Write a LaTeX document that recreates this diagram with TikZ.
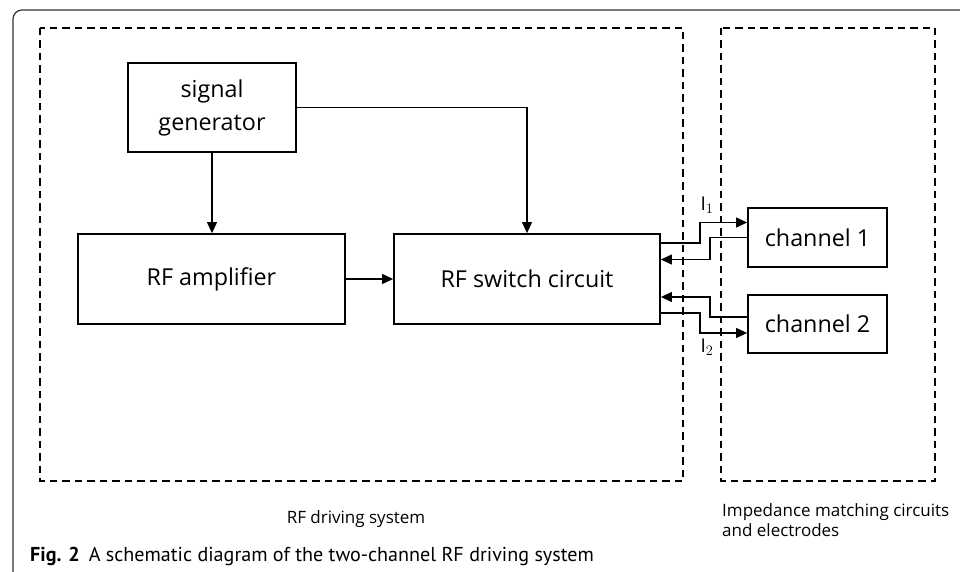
\documentclass[tikz,border=0pt]{standalone}
\usepackage{fontspec}
\setmainfont{Open Sans}
\newfontfamily\capfont{PT Sans}
\usetikzlibrary{arrows.meta}
\begin{document}
\begin{tikzpicture}[x=1pt,y=-1pt,
  blockbox/.style={draw,line width=1.8pt,inner sep=0pt,align=center,font=\fontsize{23.3}{33}\selectfont},
  dbox/.style={draw,line width=1.8pt,dash pattern=on 7.5pt off 5pt},
  conn/.style={line width=1.1pt,-{Triangle[length=11pt,width=10pt]}},
  lbl/.style={font=\fontsize{17}{20}\selectfont,align=left},
  curlbl/.style={font=\fontsize{19}{22}\selectfont}]
\useasboundingbox (0,0) rectangle (960,572);
% frame
\draw[line width=1.2pt,black!80] (13,575) -- (13,19) arc[start angle=180,end angle=270,radius=9] -- (965,10);
% dashed groups
\draw[dbox] (40,28) rectangle (683,481);
\draw[dbox] (721,28) rectangle (935,481);
% blocks
\node[blockbox,minimum width=168pt,minimum height=89pt] (sg) at (212,107.5) {signal\\generator};
\node[blockbox,minimum width=267pt,minimum height=90pt] (amp) at (211.5,279) {RF amplifier};
\node[blockbox,minimum width=266pt,minimum height=90pt] (sw) at (527,279) {RF switch circuit};
\node[blockbox,minimum width=139pt,minimum height=59pt] (ch1) at (817.5,237.5) {channel 1};
\node[blockbox,minimum width=139pt,minimum height=58pt] (ch2) at (817.5,324) {channel 2};
% connectors
\draw[conn] (sg.south) -- (amp.north -| sg.south);
\draw[conn] (sg.east) -| (sw.north);
\draw[conn] (amp.east) -- (sw.west);
\draw[conn] (sw.east |- 0,243) -- (700,243) |- (ch1.west |- 0,222.5);
\draw[conn] (ch1.west) -- (710,237.5) |- (sw.east |- 0,259.5);
\draw[conn] (ch2.west |- 0,317) -- (710,317) |- (sw.east |- 0,297);
\draw[conn] (sw.east |- 0,313) -- (700,313) |- (ch2.west |- 0,333);
\node[curlbl] (i1) at (707,205) {$\mathrm{I}_1$};
\node[curlbl] (i2) at (707,347) {$\mathrm{I}_2$};
% labels
\node[lbl] (l1) at (356,519) {RF driving system};
\node[lbl,anchor=north west,inner sep=0pt] (l2) at (722,503) {Impedance matching circuits\\and electrodes};
\node[font=\capfont\fontsize{20.1}{22}\selectfont,anchor=west,inner sep=0pt] (cap) at (30,556) {\textbf{Fig. 2}\hspace{0.45em}A schematic diagram of the two-channel RF driving system};
\end{tikzpicture}
\end{document}
